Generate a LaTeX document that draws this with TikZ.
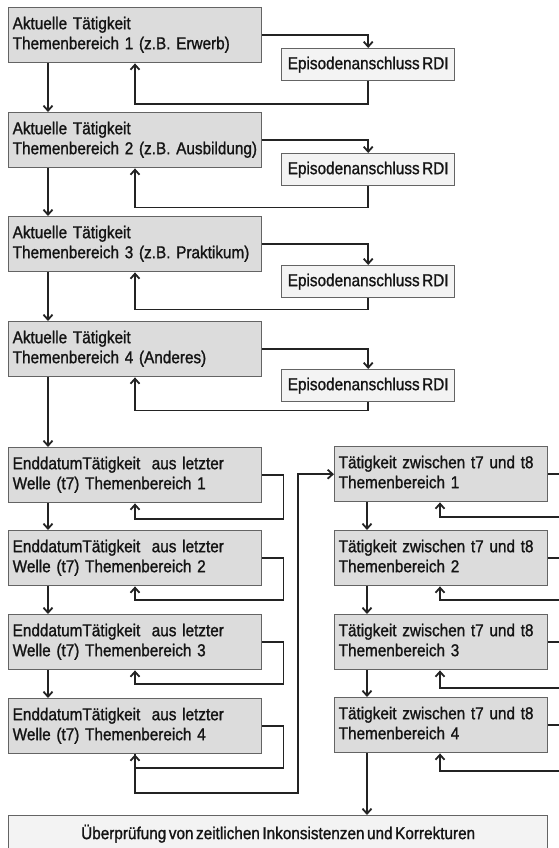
\documentclass[tikz,border=0pt]{standalone}
\usepackage{fontspec}
\setmainfont{Liberation Sans}[FakeStretch=0.89, WordSpace=0.6, FakeBold=1.2]
\usetikzlibrary{arrows.meta}
\definecolor{boxfill}{RGB}{220,220,220}
\definecolor{efill}{RGB}{243,243,243}
\definecolor{boxborder}{RGB}{100,100,100}
\definecolor{linecol}{RGB}{35,35,35}
\definecolor{txtcol}{RGB}{20,20,20}
\newcommand{\boxfont}{\fontsize{17.2}{20}\selectfont\hfuzz=40pt\hbadness=10000}
\newcommand{\twolines}[2]{\begin{tabular}{@{}l@{}}#1\\#2\end{tabular}}
\tikzset{
  gbox/.style={draw=boxborder, fill=boxfill, line width=1.4pt, minimum height=55pt,
    text width=245pt, inner xsep=4pt, inner ysep=0pt, align=left, anchor=north west,
    font=\boxfont, text=txtcol},
  rbox/.style={gbox, text width=205pt},
  ebox/.style={draw=boxborder, fill=efill, line width=1.4pt, minimum width=173pt,
    minimum height=32pt, inner sep=0pt, anchor=north west, font=\boxfont, text=txtcol},
  ubox/.style={draw=boxborder, fill=efill, line width=1.4pt, minimum width=539pt,
    minimum height=36pt, inner sep=0pt, anchor=north west, font=\boxfont, text=txtcol},
  conn/.style={draw=linecol, line width=1.8pt},
  arr/.style={conn, -{Straight Barb[length=5pt,width=9pt]}}
}
\begin{document}
\begin{tikzpicture}[x=1pt,y=-1pt]
\useasboundingbox (0,0) rectangle (559,848);
% helper columns
\coordinate (xa) at (48,0);
\coordinate (xb) at (135,0);
\coordinate (xr) at (367,0);
\coordinate (xc) at (440,0);
\coordinate (c1) at (298,793);
% top boxes
\node[gbox] (A1) at (8,7) {\twolines{Aktuelle Tätigkeit}{Themenbereich 1 (z.B. Erwerb)}};
\node[gbox] (A2) at (8,112) {\twolines{Aktuelle Tätigkeit}{Themenbereich 2 (z.B. Ausbildung)}};
\node[gbox] (A3) at (8,216) {\twolines{Aktuelle Tätigkeit}{Themenbereich 3 (z.B. Praktikum)}};
\node[gbox] (A4) at (8,321) {\twolines{Aktuelle Tätigkeit}{Themenbereich 4 (Anderes)}};
\node[ebox] (E1) at (281,48) {Episodenanschluss RDI};
\node[ebox] (E2) at (281,153) {Episodenanschluss RDI};
\node[ebox] (E3) at (281,265) {Episodenanschluss RDI};
\node[ebox] (E4) at (281,369) {Episodenanschluss RDI};
% lower left boxes
\node[gbox] (L1) at (8,447) {\twolines{EnddatumTätigkeit\ \ aus letzter}{Welle (t7) Themenbereich 1}};
\node[gbox] (L2) at (8,530) {\twolines{EnddatumTätigkeit\ \ aus letzter}{Welle (t7) Themenbereich 2}};
\node[gbox] (L3) at (8,614) {\twolines{EnddatumTätigkeit\ \ aus letzter}{Welle (t7) Themenbereich 3}};
\node[gbox] (L4) at (8,698) {\twolines{EnddatumTätigkeit\ \ aus letzter}{Welle (t7) Themenbereich 4}};
% lower right boxes
\node[rbox] (R1) at (334,446) {\twolines{Tätigkeit zwischen t7 und t8}{Themenbereich 1}};
\node[rbox] (R2) at (334,530) {\twolines{Tätigkeit zwischen t7 und t8}{Themenbereich 2}};
\node[rbox] (R3) at (334,614) {\twolines{Tätigkeit zwischen t7 und t8}{Themenbereich 3}};
\node[rbox] (R4) at (334,697) {\twolines{Tätigkeit zwischen t7 und t8}{Themenbereich 4}};
\node[ubox] (U) at (8,815) {Überprüfung von zeitlichen Inkonsistenzen und Korrekturen};
% vertical flow, left column
\draw[arr] (A1.south -| xa) -- (A2.north -| xa);
\draw[arr] (A2.south -| xa) -- (A3.north -| xa);
\draw[arr] (A3.south -| xa) -- (A4.north -| xa);
\draw[arr] (A4.south -| xa) -- (L1.north -| xa);
\draw[arr] (L1.south -| xa) -- (L2.north -| xa);
\draw[arr] (L2.south -| xa) -- (L3.north -| xa);
\draw[arr] (L3.south -| xa) -- (L4.north -| xa);
% episode loops
\draw[arr] (A1.east) -| (E1.north);
\draw[arr] (E1.south) -- ++(0,23) -| (A1.south -| xb);
\draw[arr] (A2.east) -| (E2.north);
\draw[arr] (E2.south) -- ++(0,21) -| (A2.south -| xb);
\draw[arr] (A3.east) -| (E3.north);
\draw[arr] (E3.south) -- ++(0,11) -| (A3.south -| xb);
\draw[arr] (A4.east) -| (E4.north);
\draw[arr] (E4.south) -- ++(0,8) -| (A4.south -| xb);
% left self loops
\draw[arr] (L1.east) -| ++(21,44) -| (L1.south -| xb);
\draw[arr] (L2.east) -| ++(21,41.5) -| (L2.south -| xb);
\draw[arr] (L3.east) -| ++(21,41.5) -| (L3.south -| xb);
\draw[arr] (L4.east) -| ++(21,41.5) -| (L4.south -| xb);
% long connector to right column
\draw[arr] (L4.south -| xb) |- (c1) |- (R1.west);
% right column flow
\draw[arr] (R1.south -| xr) -- (R2.north -| xr);
\draw[arr] (R2.south -| xr) -- (R3.north -| xr);
\draw[arr] (R3.south -| xr) -- (R4.north -| xr);
\draw[arr] (R4.south -| xr) -- (U.north -| xr);
% right self loops (run off the picture)
\draw[arr] (R1.east) -| ++(30,42.5) -| (R1.south -| xc);
\draw[arr] (R2.east) -| ++(30,41.5) -| (R2.south -| xc);
\draw[arr] (R3.east) -| ++(30,45.5) -| (R3.south -| xc);
\draw[arr] (R4.east) -| ++(30,45.5) -| (R4.south -| xc);
\end{tikzpicture}
\end{document}
